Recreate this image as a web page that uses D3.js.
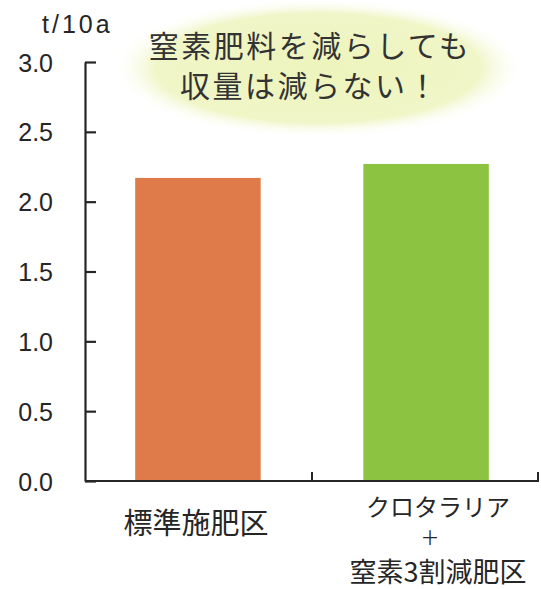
<!DOCTYPE html>
<html>
<head>
<meta charset="utf-8">
<script src="https://cdn.jsdelivr.net/npm/d3@7"></script>
<style>
  body { margin: 0; background: #fff; }
  svg { display: block; }
</style>
</head>
<body>
<div id="chart"></div>
<script>
// --- DATA ---
const categories = ["標準施肥区", "クロタラリア+窒素3割減肥区"];
const yields = [2.17, 2.27];
const yTicks = [0, 0.5, 1.0, 1.5, 2.0, 2.5, 3.0];
const titleLines = ["窒素肥料を減らしても", "収量は減らない！"];
const unitLabel = "t/10a";
const barColors = ["#df7a4b", "#8cc340"];

const width = 541, height = 589;
const margin = { top: 62, right: 2, bottom: 108, left: 85 };

const num = "'Liberation Sans', Arial, sans-serif";
const jp = "'Noto Sans CJK JP', 'Noto Sans', sans-serif";
const ink = "#262626";

const svg = d3.select("#chart").append("svg")
    .attr("width", width)
    .attr("height", height);

// pale glowing ellipse behind the title
const grad = svg.append("defs").append("radialGradient").attr("id", "glow");
grad.append("stop").attr("offset", "0%").attr("stop-color", "#edf4bc");
grad.append("stop").attr("offset", "78%").attr("stop-color", "#f0f6c7");
grad.append("stop").attr("offset", "100%").attr("stop-color", "#ffffff").attr("stop-opacity", 0);

svg.append("ellipse")
    .attr("cx", 318).attr("cy", 68)
    .attr("rx", 208).attr("ry", 70)
    .attr("fill", "url(#glow)");

const x = d3.scaleBand()
    .domain(categories)
    .range([margin.left, width - margin.right])
    .paddingInner(0.45)
    .paddingOuter(0.22);

const y = d3.scaleLinear()
    .domain([0, 3])
    .range([height - margin.bottom, margin.top]);

// bars
svg.append("g").selectAll("rect")
    .data(yields)
    .join("rect")
    .attr("x", (d, i) => x(categories[i]))
    .attr("y", d => y(d))
    .attr("width", x.bandwidth())
    .attr("height", d => y(0) - y(d))
    .attr("fill", (d, i) => barColors[i]);

// y axis, ticks pointing inward
const yAxis = svg.append("g")
    .attr("transform", `translate(${margin.left},0)`)
    .call(d3.axisRight(y).tickValues(yTicks).tickSize(11).tickSizeOuter(0).tickFormat(d3.format(".1f")));
yAxis.select(".domain").attr("stroke", ink).attr("stroke-width", 2.2);
yAxis.selectAll(".tick line").attr("stroke", ink).attr("stroke-width", 2.2);
yAxis.selectAll(".tick text")
    .attr("x", -32)
    .attr("dy", "0.36em")
    .attr("text-anchor", "end")
    .attr("font-family", num)
    .attr("font-size", 25)
    .attr("fill", ink);

// x axis: baseline plus separator ticks at category boundaries, pointing up
const xr = x.range();
const xAxis = svg.append("g");
xAxis.append("line")
    .attr("x1", xr[0]).attr("x2", xr[1])
    .attr("y1", y(0)).attr("y2", y(0))
    .attr("stroke", ink).attr("stroke-width", 2.2);
xAxis.selectAll(".sep")
    .data([(xr[0] + xr[1]) / 2, xr[1] - 1])
    .join("line")
    .attr("class", "sep")
    .attr("x1", d => d).attr("x2", d => d)
    .attr("y1", y(0)).attr("y2", y(0) - 9)
    .attr("stroke", ink).attr("stroke-width", 2);

// category labels
const c0 = x(categories[0]) + x.bandwidth() / 2;
const c1 = x(categories[1]) + x.bandwidth() / 2 + 12;
const labels = [
    { text: "標準施肥区", x: c0 - 2, y: 534, size: 29 },
    { text: "クロタラリア", x: c1, y: 516, size: 24 },
    { text: "＋", x: c1 - 8, y: 545, size: 19 },
    { text: "窒素3割減肥区", x: c1, y: 582, size: 27 }
];
svg.append("g").selectAll("text")
    .data(labels)
    .join("text")
    .attr("x", d => d.x)
    .attr("y", d => d.y)
    .attr("text-anchor", "middle")
    .attr("font-family", jp)
    .attr("font-size", d => d.size)
    .attr("fill", ink)
    .text(d => d.text);

// unit label
svg.append("text")
    .attr("x", 42).attr("y", 33)
    .attr("font-family", num)
    .attr("font-size", 25)
    .attr("letter-spacing", 3)
    .attr("fill", ink)
    .text(unitLabel);

// title
svg.append("g").selectAll("text")
    .data(titleLines)
    .join("text")
    .attr("x", 310)
    .attr("y", (d, i) => 57 + i * 40)
    .attr("text-anchor", "middle")
    .attr("font-family", jp)
    .attr("font-size", 30)
    .attr("letter-spacing", 2.5)
    .attr("fill", "#333")
    .text(d => d);
</script>
</body>
</html>
